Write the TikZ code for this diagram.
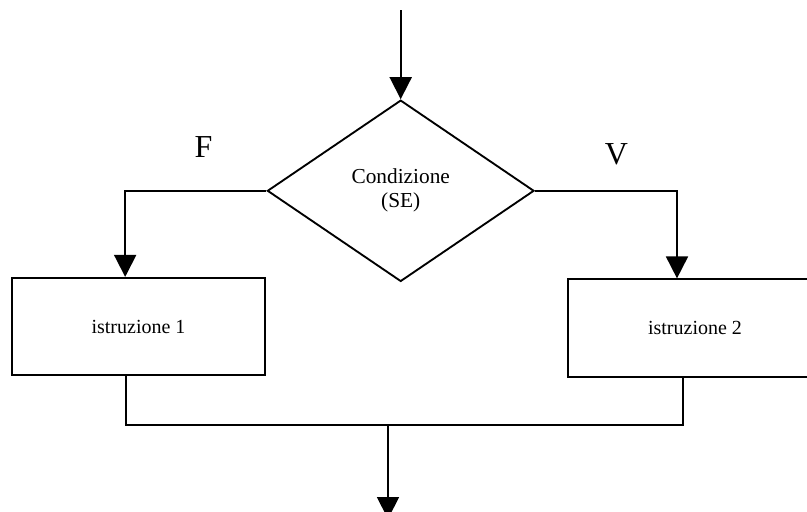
\documentclass[tikz,border=0pt]{standalone}
\usepackage{fontspec}
\setmainfont{Liberation Serif}
\usetikzlibrary{shapes.geometric,arrows.meta}

\tikzset{
	box/.style = {draw, rectangle, line width = 1.4pt, minimum width = 190pt, minimum height = 73pt, inner sep = 0pt, font = \fontsize{15}{15}\selectfont},
	test/.style = {draw, diamond, line width = 1.4pt, minimum width = 200pt, minimum height = 136pt, inner sep = 0pt, align = center, font = \fontsize{16}{16}\selectfont},
	branch/.style = {font = \fontsize{24}{28}\selectfont}
}

\begin{document}
\begin{tikzpicture}[x = 0.75pt, y = -0.75pt, > = {Triangle[length = 16.5pt, width = 16.5pt]}, line width = 1.4pt]

	\useasboundingbox (0, 0) rectangle (807, 511);

	% Blocks
	
	\node [test] (cond) at (400.7, 190.8) {Condizione\\[2pt](SE)};
	\node [box] (istr1) at (138.5, 326.5) {istruzione 1};
	\node [box] (istr2) at (695, 328) {istruzione 2};
	
	% Branch labels
	
	\node [branch] (lblF) at (203.5, 147) {F};
	\node [branch] (lblV) at (616.5, 154.5) {V};
	
	% Flow lines
	
	\coordinate (start) at (400.7, 10);
	\coordinate (join) at (388, 425);
	\coordinate (exit) at (388, 519);
	
	\draw [->] (start) -- (cond.north);
	\draw [->] (cond.west) -| ([xshift = -10pt] istr1.north);
	\draw [->] (cond.east) -| ([xshift = -13.5pt] istr2.north);
	
	\draw ([xshift = -9.4pt] istr1.south) |- (join) -| ([xshift = -9pt] istr2.south);
	\draw [->] (join) -- (exit);

\end{tikzpicture}
\end{document}
